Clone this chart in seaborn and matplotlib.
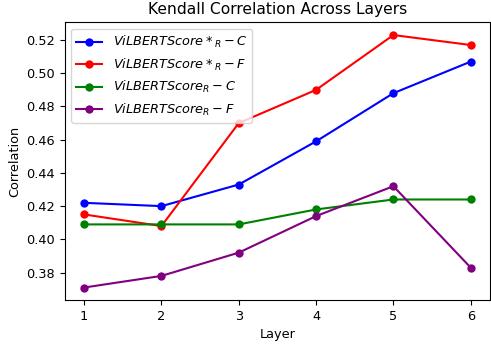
import numpy as np
import pandas as pd
import matplotlib
matplotlib.use("Agg")
import matplotlib.pyplot as plt
import seaborn as sns

layers = [1, 2, 3, 4, 5, 6]
star_c = [0.422, 0.420, 0.433, 0.459, 0.488, 0.507]
star_f = [0.415, 0.408, 0.470, 0.490, 0.523, 0.517]
plain_c = [0.409, 0.409, 0.409, 0.418, 0.424, 0.424]
plain_f = [0.371, 0.378, 0.392, 0.414, 0.432, 0.383]

labels = [r"$ViLBERTScore*_R-C$", r"$ViLBERTScore*_R-F$",
          r"$ViLBERTScore_R-C$", r"$ViLBERTScore_R-F$"]
colors = ["blue", "red", "green", "purple"]

rows = []
for lab, vals in zip(labels, [star_c, star_f, plain_c, plain_f]):
    for l, v in zip(layers, vals):
        rows.append({"Layer": l, "Correlation": v, "series": lab})
df = pd.DataFrame(rows)

plt.rcParams["font.size"] = 9.3

fig, ax = plt.subplots(figsize=(4.91, 3.45), dpi=100)
sns.lineplot(data=df, x="Layer", y="Correlation", hue="series",
             hue_order=labels, palette=colors, marker="o",
             markersize=6, markeredgewidth=0, linewidth=1.5, ax=ax)
ax.set_title("Kendall Correlation Across Layers", fontsize=11.2)
ax.set_xlabel("Layer")
ax.set_ylabel("Correlation")
ax.set_xticks(layers)
ax.set_yticks(np.arange(0.38, 0.521, 0.02))
ax.legend(loc="upper left", title=None)
fig.subplots_adjust(left=0.132, right=0.998, top=0.935, bottom=0.13)
fig.savefig("out.png", dpi=100)
